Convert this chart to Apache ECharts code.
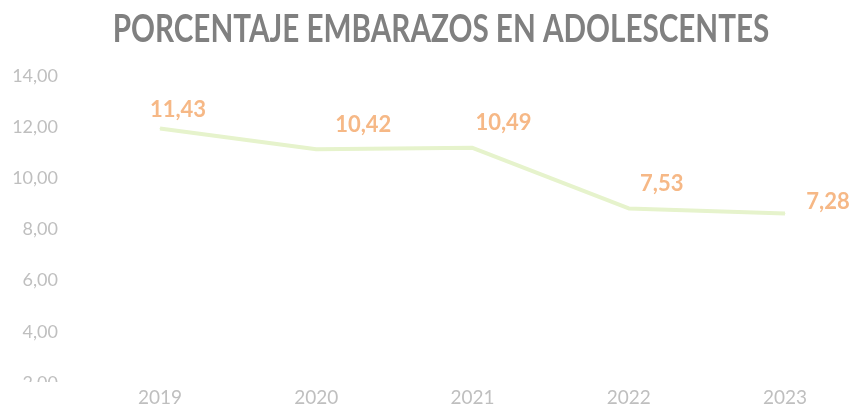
<!DOCTYPE html>
<html>
<head>
<meta charset="utf-8">
<script src="https://cdn.jsdelivr.net/npm/echarts@6/dist/echarts.min.js"></script>
<style>
html,body{margin:0;padding:0;background:#fff;}
#chart{width:854px;height:407px;}
</style>
</head>
<body>
<div id="chart"></div>
<script>
const years = ['2019', '2020', '2021', '2022', '2023'];
const porcentaje = [11.43, 10.42, 10.49, 7.53, 7.28];
const yTicks = { min: 2, max: 14, interval: 2 };
const titleText = 'PORCENTAJE EMBARAZOS EN ADOLESCENTES';

// label placement (style only)
const labelOffsets = [[18, -19], [47, -24], [31, -25], [33, -25], [43, -12]];

const fmt = v => v.toFixed(2).replace('.', ',');

const chart = echarts.init(document.getElementById('chart'), null, { renderer: 'canvas' });
chart.setOption({
  backgroundColor: '#ffffff',
  animation: false,
  grid: { left: 160, right: 69, top: 76, bottom: 22.5, containLabel: false },
  xAxis: {
    type: 'category',
    data: years,
    boundaryGap: false,
    z: 10,
    axisLine: { show: false },
    axisTick: { show: false },
    axisLabel: {
      margin: 5,
      color: '#bfbfbf',
      fontFamily: 'Lato, sans-serif',
      fontSize: 19
    }
  },
  yAxis: [
    {
      type: 'value',
      min: yTicks.min,
      max: yTicks.max,
      interval: yTicks.interval,
      splitLine: { show: false },
      axisLine: { show: false },
      axisTick: { show: false },
      axisLabel: {
        margin: 102,
        color: '#bfbfbf',
        fontFamily: 'Lato, sans-serif',
        fontSize: 18,
        formatter: v => fmt(v)
      }
    },
    {
      type: 'value',
      min: -1,
      max: 14,
      show: false
    }
  ],
  graphic: [
    { type: 'rect', z: 5, shape: { x: 0, y: 382, width: 110, height: 25 }, style: { fill: '#ffffff' } },
    {
      type: 'text',
      z: 20,
      x: 441,
      y: 30,
      scaleX: 0.78,
      style: {
        text: titleText,
        x: 0,
        y: 0,
        align: 'center',
        verticalAlign: 'middle',
        fontFamily: 'Lato, sans-serif',
        fontWeight: 'bold',
        fontSize: 38,
        fill: '#808080',
        shadowColor: 'rgba(0,0,0,0.35)',
        shadowBlur: 2,
        shadowOffsetX: 1,
        shadowOffsetY: 1
      }
    }
  ],
  series: [
    {
      type: 'line',
      yAxisIndex: 1,
      data: porcentaje.map((v, i) => ({
        value: v,
        label: { offset: labelOffsets[i] }
      })),
      symbol: 'circle',
      symbolSize: 1,
      showSymbol: true,
      itemStyle: { color: '#e6f3cc' },
      lineStyle: { color: '#e6f3cc', width: 4 },
      label: {
        show: true,
        position: 'inside',
        color: '#f6b886',
        fontFamily: 'Lato, sans-serif',
        fontWeight: 'bold',
        fontSize: 22,
        formatter: p => fmt(p.value)
      }
    }
  ]
});
</script>
</body>
</html>
